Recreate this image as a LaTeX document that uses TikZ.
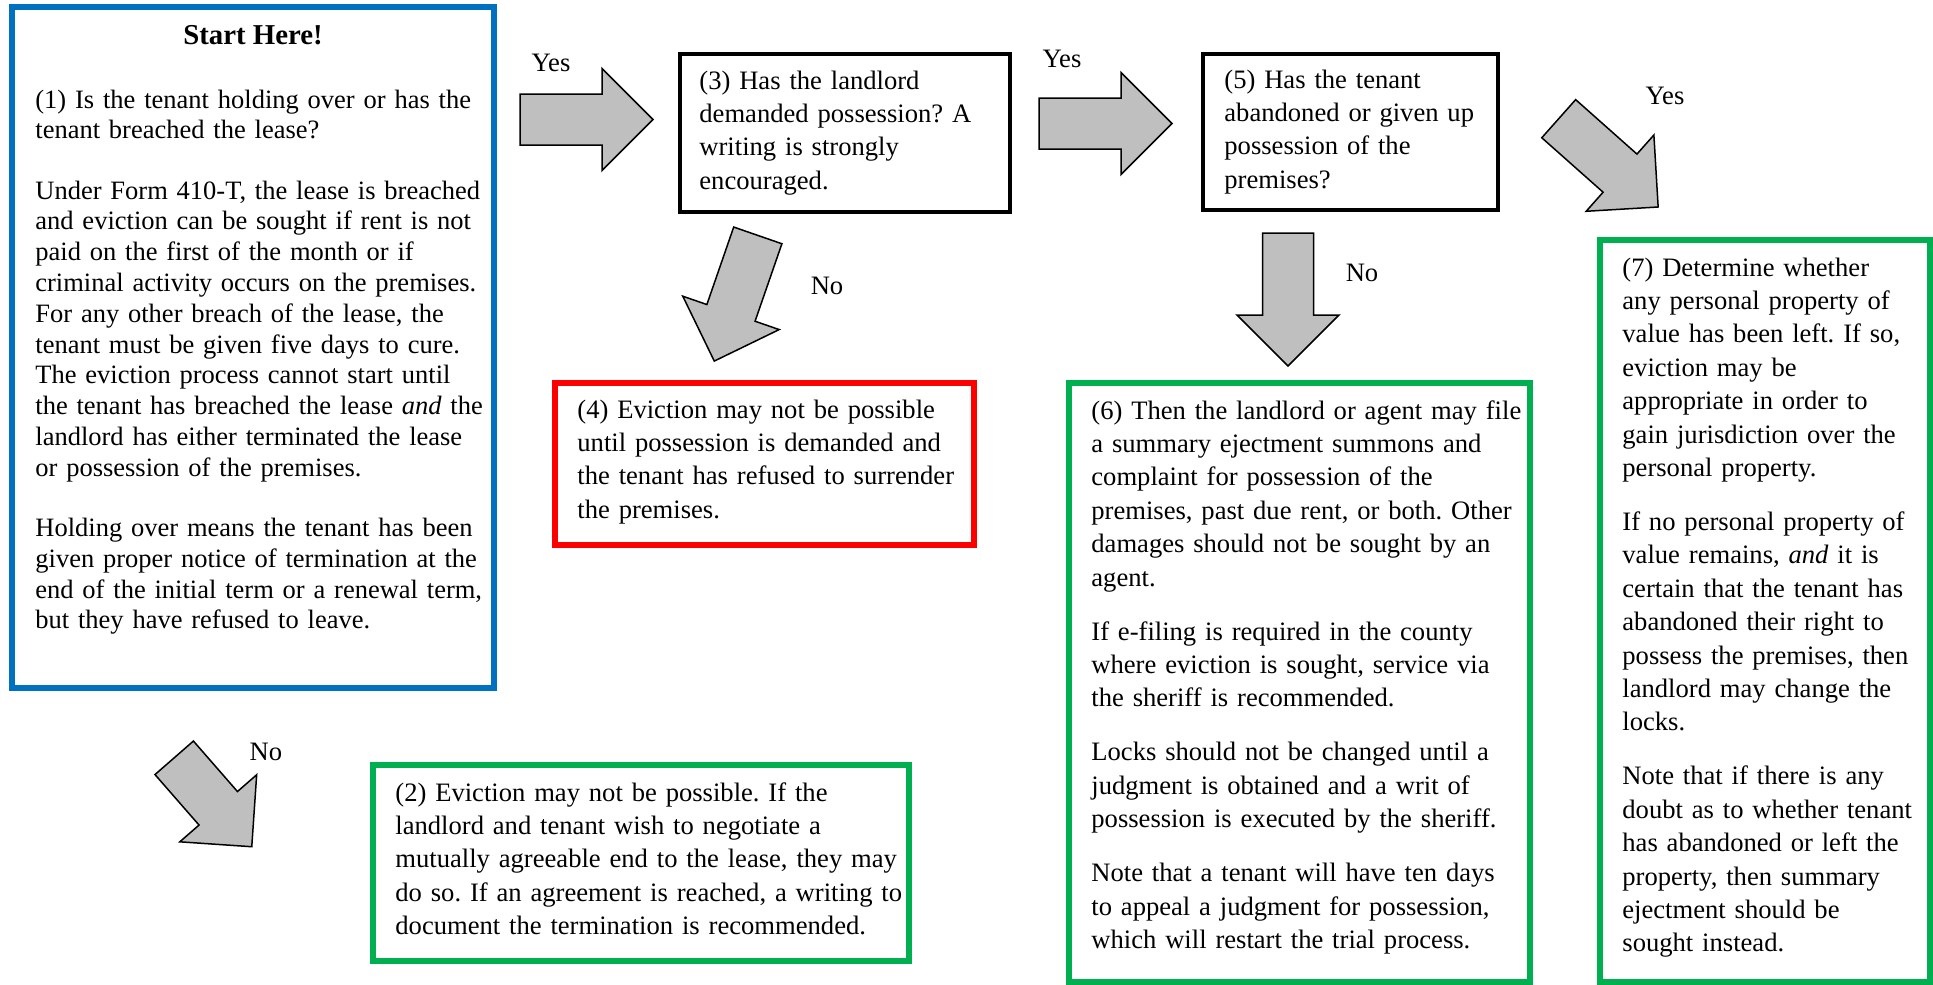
\documentclass[tikz,border=0pt]{standalone}
\usepackage{fontspec}
\setmainfont{Liberation Serif}
\frenchspacing

\definecolor{startblue}{RGB}{0,112,192}
\definecolor{okgreen}{RGB}{0,176,80}
\definecolor{stopred}{RGB}{255,0,0}
\definecolor{arrowgrey}{RGB}{191,191,191}

\tikzset{
	boxframe/.style={draw, anchor=north west, inner sep=0pt, outer sep=0pt},
	questionbox/.style={boxframe, draw=black, line width=1.75pt},
	outcomebox/.style={boxframe, draw=okgreen, line width=2.75pt},
	bodytext/.style={anchor=base west, inner sep=0pt, align=left, text width=#1,
		font=\fontsize{13.3}{16.7}\selectfont},
	answer/.style={inner sep=0pt, font=\fontsize{13.3}{16}\selectfont},
	blockarrow/.style={draw=black, fill=arrowgrey, line width=0.75pt, line join=miter},
}

% block arrow: [shaft length]{tail centre}{angle}
\newcommand{\flowarrow}[3][82]{%
	\begin{scope}[shift={#2}, rotate=#3]
		\draw[blockarrow] (0,25.5) -- (#1,25.5) -- (#1,51) -- ({#1+51},0)
			-- (#1,-51) -- (#1,-25.5) -- (0,-25.5) -- cycle;
	\end{scope}}

\begin{document}
\begin{tikzpicture}[x=0.5pt, y=-0.5pt]%[show background grid]

	\useasboundingbox (0,0) rectangle (1933,985);

	% (1) start
	\node[boxframe, draw=startblue, line width=3pt, minimum width=241pt, minimum height=340.5pt] (start) at (12,7) {};
	\node[answer, font=\bfseries\fontsize{14.4}{16}\selectfont, anchor=base] (starttitle) at (253,44) {Start Here!};
	\node[bodytext=228pt, font=\fontsize{13.25}{15.4}\selectfont] (starttext) at (35,108) {%
		(1) Is the tenant holding over or has the\\
		tenant breached the lease?\\[14.7pt]
		Under Form 410-T, the lease is breached\\
		and eviction can be sought if rent is not\\
		paid on the first of the month or if\\
		criminal activity occurs on the premises.\\
		For any other breach of the lease, the\\
		tenant must be given five days to cure.\\
		The eviction process cannot start until\\
		the tenant has breached the lease \emph{and} the\\
		landlord has either terminated the lease\\
		or possession of the premises.\\[14.7pt]
		Holding over means the tenant has been\\
		given proper notice of termination at the\\
		end of the initial term or a renewal term,\\
		but they have refused to leave.};

	% (3) demand
	\node[questionbox, minimum width=165pt, minimum height=79pt] (demand) at (680,54) {};
	\node[bodytext=160pt] (demandtext) at (699,89) {%
		(3) Has the landlord\\
		demanded possession? A\\
		writing is strongly\\
		encouraged.};

	% (5) abandoned
	\node[questionbox, minimum width=147.5pt, minimum height=78pt] (abandon) at (1203,54) {};
	\node[bodytext=140pt] (abandontext) at (1224,88) {%
		(5) Has the tenant\\
		abandoned or given up\\
		possession of the\\
		premises?};

	% (4) no demand
	\node[boxframe, draw=stopred, line width=2.75pt, minimum width=209.5pt, minimum height=81pt] (nodemand) at (555,383) {};
	\node[bodytext=205pt] (nodemandtext) at (577,418) {%
		(4) Eviction may not be possible\\
		until possession is demanded and\\
		the tenant has refused to surrender\\
		the premises.};

	% (2) no breach
	\node[outcomebox, minimum width=268pt, minimum height=98pt] (nobreach) at (373,765) {};
	\node[bodytext=260pt] (nobreachtext) at (395,801) {%
		(2) Eviction may not be possible. If the\\
		landlord and tenant wish to negotiate a\\
		mutually agreeable end to the lease, they may\\
		do so. If an agreement is reached, a writing to\\
		document the termination is recommended.};

	% (6) summary ejectment
	\node[outcomebox, minimum width=230.5pt, minimum height=299.5pt] (eject) at (1069,383) {};
	\node[bodytext=225pt] (ejecttext) at (1091,419) {%
		(6) Then the landlord or agent may file\\
		a summary ejectment summons and\\
		complaint for possession of the\\
		premises, past due rent, or both. Other\\
		damages should not be sought by an\\
		agent.\\[10.3pt]
		If e-filing is required in the county\\
		where eviction is sought, service via\\
		the sheriff is recommended.\\[10.3pt]
		Locks should not be changed until a\\
		judgment is obtained and a writ of\\
		possession is executed by the sheriff.\\[10.3pt]
		Note that a tenant will have ten days\\
		to appeal a judgment for possession,\\
		which will restart the trial process.};

	% (7) personal property
	\node[outcomebox, minimum width=165pt, minimum height=371pt] (property) at (1600,240) {};
	\node[bodytext=160pt] (propertytext) at (1622,276) {%
		(7) Determine whether\\
		any personal property of\\
		value has been left. If so,\\
		eviction may be\\
		appropriate in order to\\
		gain jurisdiction over the\\
		personal property.\\[10.3pt]
		If no personal property of\\
		value remains, \emph{and} it is\\
		certain that the tenant has\\
		abandoned their right to\\
		possess the premises, then\\
		landlord may change the\\
		locks.\\[10.3pt]
		Note that if there is any\\
		doubt as to whether tenant\\
		has abandoned or left the\\
		property, then summary\\
		ejectment should be\\
		sought instead.};

	% arrows
	\flowarrow{(520,119.5)}{0}
	\flowarrow{(1039,123.5)}{0}
	\flowarrow{(1558.7,118.7)}{-41.6}
	\flowarrow{(757.8,235.4)}{250.9}
	\flowarrow{(1288,233)}{-90}
	\flowarrow[67]{(174.2,757.8)}{-48.9}

	\node[answer] (yesdemand) at (551,63) {Yes};
	\node[answer] (yesabandon) at (1062,59) {Yes};
	\node[answer] (yesproperty) at (1665,96) {Yes};
	\node[answer] (nodemandlbl) at (827,286) {No};
	\node[answer] (noejectlbl) at (1362,273) {No};
	\node[answer] (nobreachlbl) at (266,752) {No};

\end{tikzpicture}
\end{document}
